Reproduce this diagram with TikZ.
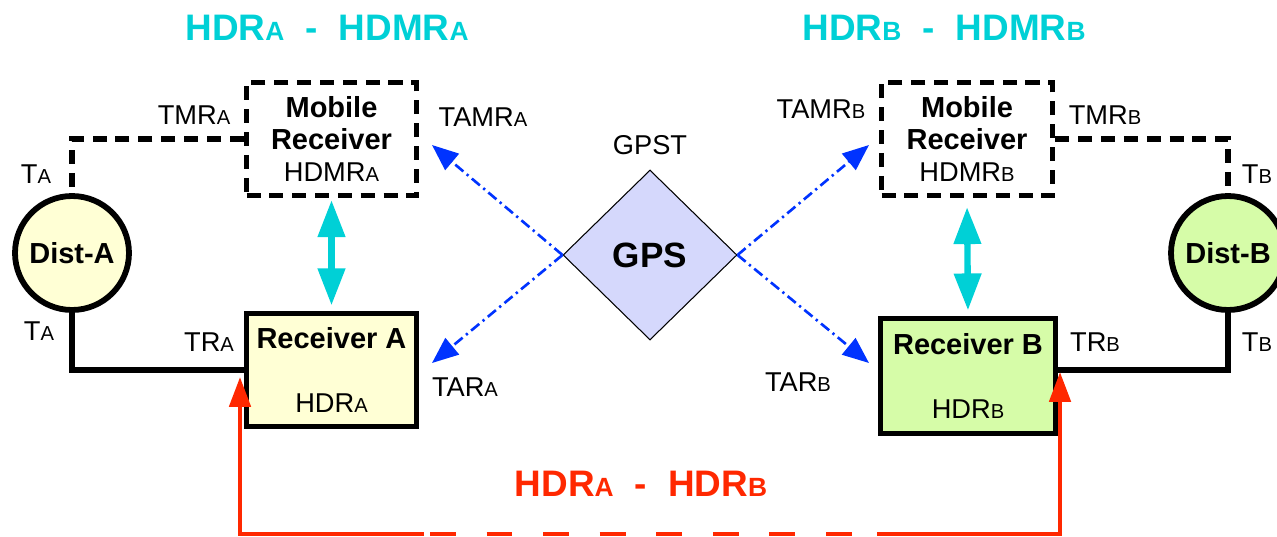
\documentclass[tikz,border=0pt]{standalone}
\usepackage{fontspec}
\setmainfont{Liberation Sans}
\usetikzlibrary{shapes.geometric,arrows.meta,calc}
\definecolor{hdcyan}{RGB}{0,208,214}
\definecolor{hdred}{RGB}{255,40,0}
\definecolor{gpsblue}{RGB}{0,51,255}
\definecolor{rxyellow}{RGB}{255,255,213}
\definecolor{rxgreen}{RGB}{214,252,168}
\definecolor{gpsfill}{RGB}{213,216,252}
\newcommand{\idx}[1]{{\fontsize{11.5pt}{12pt}\selectfont #1}}
\newcommand{\bigidx}[1]{{\fontsize{15pt}{16pt}\selectfont #1}}
\newcommand{\bx}[1]{{\fontsize{16.5pt}{18pt}\selectfont\bfseries #1}}

\begin{document}
\begin{tikzpicture}[x=0.02cm,y=-0.02cm,
    lbl/.style={font=\fontsize{15.5pt}{17pt}\selectfont,inner sep=0pt},
    ttl/.style={font=\fontsize{21pt}{23pt}\selectfont\bfseries,inner sep=0pt},
    rxbox/.style={draw,line width=3.3pt,align=center,inner sep=0pt,
      minimum width=3.4cm,minimum height=2.26cm,font=\fontsize{15.5pt}{18pt}\selectfont},
    mobbox/.style={rxbox,dash pattern=on 8pt off 5pt},
    dist/.style={circle,draw,line width=3.3pt,minimum size=2.28cm,inner sep=0pt,
      font=\fontsize{16.5pt}{18pt}\selectfont\bfseries},
    wire/.style={line width=3.3pt},
    dashwire/.style={line width=3.3pt,dash pattern=on 8pt off 5pt},
    cyanarr/.style={hdcyan,line width=3.6pt,
      {Triangle[width=15pt,length=21pt]}-{Triangle[width=15pt,length=21pt]}},
    gpsarr/.style={gpsblue,line width=1.5pt,
      dash pattern=on 6pt off 2.5pt on 1.3pt off 2.5pt,-{Triangle[width=12pt,length=15pt]}},
    redline/.style={hdred,line width=2.6pt},
    redarr/.style={redline,-{Triangle[width=12pt,length=17pt]}}]
  \clip (0,0) rectangle (1277,537);

  \node[ttl,text=hdcyan] (ttlA) at (327,28) {HDR\bigidx{A}\hspace{12pt}-\hspace{12pt}HDMR\bigidx{A}};
  \node[ttl,text=hdcyan] (ttlB) at (944,28) {HDR\bigidx{B}\hspace{12pt}-\hspace{12pt}HDMR\bigidx{B}};
  \node[ttl,text=hdred] (ttlAB) at (641,484) {HDR\bigidx{A}\hspace{12pt}-\hspace{12pt}HDR\bigidx{B}};

  \node[mobbox] (mobA) at (331.5,139) {\bx{Mobile}\\\bx{Receiver}\\HDMR\idx{A}};
  \node[mobbox,minimum width=3.42cm] (mobB) at (967,139) {\bx{Mobile}\\\bx{Receiver}\\HDMR\idx{B}};
  \node[rxbox,fill=rxyellow] (recA) at (331.5,370) {\bx{Receiver A}\\[18pt]HDR\idx{A}};
  \node[rxbox,fill=rxgreen,minimum width=3.5cm,minimum height=2.3cm] (recB) at (968,376) {\bx{Receiver B}\\[18pt]HDR\idx{B}};
  \node[dist,fill=rxyellow] (distA) at (72,253) {Dist-A};
  \node[dist,fill=rxgreen] (distB) at (1228,253) {Dist-B};
  \node[diamond,draw,line width=0.6pt,fill=gpsfill,minimum width=3.48cm,minimum height=3.4cm,
    inner sep=0pt,font=\fontsize{20pt}{22pt}\selectfont\bfseries] (gps) at (650,255) {GPS};

  \node[lbl] (lTMRA) at (194,115) {TMR\idx{A}};
  \node[lbl] (lTAMRA) at (483,117) {TAMR\idx{A}};
  \node[lbl] (lTAup) at (36,174) {T\idx{A}};
  \node[lbl] (lTAdn) at (39,331) {T\idx{A}};
  \node[lbl] (lTRA) at (209,342) {TR\idx{A}};
  \node[lbl] (lTARA) at (465,387) {TAR\idx{A}};
  \node[lbl] (lGPST) at (650,145) {GPST};
  \node[lbl] (lTAMRB) at (821,109) {TAMR\idx{B}};
  \node[lbl] (lTMRB) at (1105,115) {TMR\idx{B}};
  \node[lbl] (lTBup) at (1257,174) {T\idx{B}};
  \node[lbl] (lTBdn) at (1257,342) {T\idx{B}};
  \node[lbl] (lTRB) at (1095,342) {TR\idx{B}};
  \node[lbl] (lTARB) at (798,382) {TAR\idx{B}};

  \draw[dashwire] (mobA.west) -| (distA.north);
  \draw[dashwire] (mobB.east) -| (distB.north);
  \draw[wire] (distA.south) |- (recA.west);
  \draw[wire] (distB.south) |- ([yshift=0.12cm]recB.east);

  \draw[cyanarr,shorten <=1pt,shorten >=3pt] (mobA.south) -- (recA.north);
  \draw[cyanarr,shorten <=5pt,shorten >=3pt] (mobB.south) -- (recB.north);

  \coordinate (tamrA) at (432,145);
  \coordinate (tarA) at (432,363);
  \coordinate (tamrB) at (869,145);
  \coordinate (tarB) at (869,363);
  \draw[gpsarr] (gps.west) -- (tamrA);
  \draw[gpsarr] (gps.west) -- (tarA);
  \draw[gpsarr] (gps.east) -- (tamrB);
  \draw[gpsarr] (gps.east) -- (tarB);

  \coordinate (hA) at (240,534);
  \coordinate (hB) at (1060,534);
  \coordinate (tipA) at (240,377);
  \coordinate (tipB) at (1060,372);
  \coordinate (gapA) at (424,534);
  \coordinate (gapB) at (877,534);
  \draw[redarr] (gapA) -- (hA) -- (tipA);
  \draw[redarr] (gapB) -- (hB) -- (tipB);
  \draw[redline,dash pattern=on 14.7pt off 17.5pt] (430,534) -- (871,534);
\end{tikzpicture}
\end{document}
